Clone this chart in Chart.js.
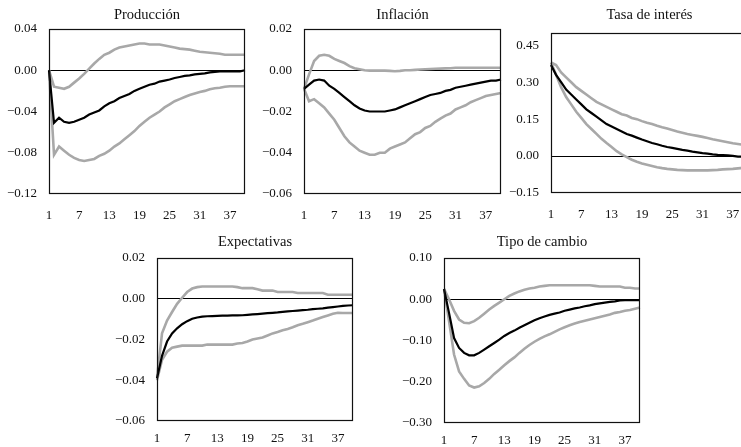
<!DOCTYPE html>
<html><head><meta charset="utf-8">
<script src="https://cdn.jsdelivr.net/npm/chart.js@4"></script>
<style>
html,body{margin:0;padding:0;background:#fff;overflow:hidden;}
#wrap{position:relative;width:741px;height:447px;overflow:hidden;background:#fff;}
canvas{position:absolute;}
</style></head><body><div id="wrap"></div>
<script>
// ---- data ----
const periods = [1,2,3,4,5,6,7,8,9,10,11,12,13,14,15,16,17,18,19,20,21,22,23,24,25,26,27,28,29,30,31,32,33,34,35,36,37,38,39,40];
const xTickLabels = ['1','7','13','19','25','31','37'];

const prodMed = [0,-0.051,-0.046,-0.050,-0.051,-0.050,-0.048,-0.046,-0.043,-0.041,-0.039,-0.035,-0.032,-0.030,-0.027,-0.025,-0.023,-0.020,-0.018,-0.016,-0.014,-0.013,-0.011,-0.010,-0.009,-0.0075,-0.0065,-0.0055,-0.005,-0.004,-0.0035,-0.003,-0.002,-0.0015,-0.001,-0.001,-0.001,-0.001,-0.001,0.0];
const prodUp = [0,-0.016,-0.017,-0.018,-0.016,-0.012,-0.008,-0.0035,0.0015,0.0065,0.011,0.015,0.017,0.020,0.022,0.023,0.024,0.025,0.026,0.026,0.025,0.025,0.025,0.024,0.023,0.022,0.021,0.0205,0.020,0.019,0.018,0.0175,0.017,0.0165,0.016,0.015,0.015,0.015,0.015,0.015];
const prodLo = [0,-0.082,-0.074,-0.078,-0.082,-0.085,-0.087,-0.088,-0.087,-0.086,-0.083,-0.081,-0.078,-0.074,-0.071,-0.067,-0.063,-0.059,-0.054,-0.050,-0.046,-0.043,-0.040,-0.036,-0.033,-0.030,-0.028,-0.026,-0.024,-0.0225,-0.021,-0.020,-0.0185,-0.0175,-0.017,-0.016,-0.0155,-0.0155,-0.0155,-0.0155];

const inflMed = [-0.009,-0.007,-0.005,-0.0045,-0.005,-0.0075,-0.009,-0.011,-0.013,-0.015,-0.017,-0.0185,-0.0195,-0.020,-0.020,-0.020,-0.020,-0.0195,-0.019,-0.018,-0.017,-0.016,-0.015,-0.014,-0.013,-0.012,-0.0115,-0.011,-0.010,-0.0095,-0.0085,-0.008,-0.0075,-0.007,-0.0065,-0.006,-0.0055,-0.005,-0.005,-0.0045];
const inflUp = [-0.009,-0.002,0.0045,0.007,0.0075,0.007,0.0055,0.0045,0.0035,0.002,0.001,0.0005,0.0,-0.0002,-0.0002,-0.0002,-0.0002,-0.0003,-0.0005,-0.0003,0.0,0.0,0.0002,0.0004,0.0005,0.0006,0.0007,0.0008,0.0009,0.001,0.0012,0.0012,0.0012,0.0012,0.0012,0.0012,0.0012,0.0012,0.0012,0.0012];
const inflLo = [-0.009,-0.015,-0.014,-0.016,-0.018,-0.021,-0.024,-0.028,-0.032,-0.035,-0.037,-0.039,-0.040,-0.041,-0.041,-0.040,-0.040,-0.038,-0.037,-0.036,-0.035,-0.033,-0.031,-0.030,-0.028,-0.027,-0.025,-0.0235,-0.022,-0.021,-0.019,-0.018,-0.017,-0.0155,-0.0145,-0.0135,-0.0125,-0.012,-0.0115,-0.011];

const tasaMed = [0.37,0.33,0.30,0.27,0.25,0.23,0.21,0.19,0.175,0.16,0.145,0.13,0.12,0.11,0.10,0.09,0.083,0.075,0.067,0.06,0.053,0.048,0.042,0.037,0.033,0.029,0.025,0.022,0.018,0.015,0.012,0.01,0.007,0.005,0.004,0.003,0.001,-0.002,-0.002,-0.002];
const tasaUp = [0.38,0.37,0.34,0.32,0.30,0.28,0.265,0.25,0.235,0.22,0.21,0.20,0.19,0.18,0.17,0.165,0.155,0.15,0.142,0.135,0.13,0.123,0.117,0.112,0.106,0.10,0.095,0.09,0.086,0.082,0.078,0.073,0.068,0.064,0.06,0.056,0.052,0.049,0.046,0.043];
const tasaLo = [0.38,0.33,0.28,0.24,0.21,0.18,0.155,0.13,0.11,0.09,0.07,0.053,0.037,0.02,0.007,-0.004,-0.015,-0.023,-0.03,-0.035,-0.04,-0.045,-0.049,-0.052,-0.054,-0.056,-0.057,-0.058,-0.058,-0.058,-0.058,-0.058,-0.057,-0.056,-0.054,-0.053,-0.052,-0.05,-0.048,-0.046];

const expMed = [-0.039,-0.028,-0.021,-0.017,-0.0145,-0.0125,-0.011,-0.0098,-0.0092,-0.0088,-0.0086,-0.0085,-0.0084,-0.0083,-0.0083,-0.0082,-0.0082,-0.0081,-0.0079,-0.0077,-0.0075,-0.0073,-0.0071,-0.0069,-0.0067,-0.0064,-0.0062,-0.006,-0.0058,-0.0056,-0.0054,-0.0051,-0.0049,-0.0047,-0.0044,-0.0041,-0.0038,-0.0035,-0.0033,-0.0032];
const expUp = [-0.039,-0.017,-0.0107,-0.0065,-0.0025,0.0005,0.0033,0.005,0.0057,0.006,0.006,0.006,0.006,0.006,0.006,0.006,0.0057,0.0052,0.0052,0.0052,0.0047,0.004,0.004,0.004,0.0033,0.0033,0.0033,0.0033,0.0028,0.0028,0.0028,0.0028,0.0028,0.0028,0.002,0.002,0.002,0.002,0.002,0.002];
const expLo = [-0.040,-0.030,-0.026,-0.024,-0.0235,-0.023,-0.023,-0.023,-0.023,-0.023,-0.0225,-0.0225,-0.0225,-0.0225,-0.0225,-0.0225,-0.022,-0.0217,-0.021,-0.020,-0.0195,-0.019,-0.018,-0.017,-0.0163,-0.0155,-0.0148,-0.014,-0.013,-0.0123,-0.0115,-0.0107,-0.0098,-0.009,-0.0082,-0.0074,-0.0069,-0.007,-0.007,-0.007];

const tcMed = [0.025,-0.033,-0.094,-0.118,-0.130,-0.136,-0.136,-0.130,-0.122,-0.114,-0.106,-0.098,-0.089,-0.082,-0.076,-0.069,-0.063,-0.057,-0.051,-0.046,-0.042,-0.038,-0.035,-0.032,-0.028,-0.025,-0.022,-0.020,-0.017,-0.015,-0.012,-0.010,-0.008,-0.0065,-0.005,-0.003,-0.002,-0.002,-0.002,-0.002];
const tcUp = [0.025,0.0,-0.028,-0.049,-0.057,-0.058,-0.053,-0.045,-0.035,-0.025,-0.016,-0.008,0.0,0.008,0.014,0.019,0.023,0.026,0.028,0.031,0.0325,0.034,0.034,0.034,0.034,0.034,0.034,0.034,0.034,0.034,0.0325,0.031,0.031,0.031,0.031,0.031,0.028,0.028,0.026,0.026];
const tcLo = [0.025,-0.053,-0.134,-0.175,-0.193,-0.209,-0.214,-0.211,-0.203,-0.193,-0.181,-0.171,-0.160,-0.150,-0.141,-0.130,-0.120,-0.111,-0.103,-0.096,-0.090,-0.085,-0.079,-0.073,-0.068,-0.063,-0.059,-0.055,-0.052,-0.049,-0.046,-0.043,-0.040,-0.037,-0.033,-0.031,-0.028,-0.026,-0.023,-0.020];

const prodTickVals = [-0.12,-0.08,-0.04,0,0.04];
const prodTickLabels = ['\u22120.12','\u22120.08','\u22120.04','0.00','0.04'];
const inflTickVals = [-0.06,-0.04,-0.02,0,0.02];
const inflTickLabels = ['\u22120.06','\u22120.04','\u22120.02','0.00','0.02'];
const tasaTickVals = [-0.15,0,0.15,0.30,0.45];
const tasaTickLabels = ['\u22120.15','0.00','0.15','0.30','0.45'];
const expTickVals = [-0.06,-0.04,-0.02,0,0.02];
const expTickLabels = ['\u22120.06','\u22120.04','\u22120.02','0.00','0.02'];
const tcTickVals = [-0.30,-0.20,-0.10,0,0.10];
const tcTickLabels = ['\u22120.30','\u22120.20','\u22120.10','0.00','0.10'];

// ---- layout ----
const panels = [
  {title:'Producción', med:prodMed, up:prodUp, lo:prodLo, min:-0.12, max:0.04, tv:prodTickVals, tl:prodTickLabels, rect:[49,29,245,194], titleY:15, xPad:14},
  {title:'Inflación', med:inflMed, up:inflUp, lo:inflLo, min:-0.06, max:0.02, tv:inflTickVals, tl:inflTickLabels, rect:[304,29,501,194], titleY:15, xPad:14},
  {title:'Tasa de interés', med:tasaMed, up:tasaUp, lo:tasaLo, min:-0.15, max:0.50, tv:tasaTickVals, tl:tasaTickLabels, rect:[551,33,748,193], titleY:15, xPad:14},
  {title:'Expectativas', med:expMed, up:expUp, lo:expLo, min:-0.06, max:0.02, tv:expTickVals, tl:expTickLabels, rect:[157,258,353,421], titleY:242, xPad:10},
  {title:'Tipo de cambio', med:tcMed, up:tcUp, lo:tcLo, min:-0.30, max:0.10, tv:tcTickVals, tl:tcTickLabels, rect:[444,258,640,423], titleY:242, xPad:10}
];

Chart.defaults.font.family = '"Liberation Serif","Times New Roman",serif';
Chart.defaults.font.size = 13;
Chart.defaults.color = '#111';

const GRAY = '#a8a8a8';
const AXW = 49, XAXH = 32, TFS = 14.5, TLH = 1.2, RPAD = 22;

const framePlugin = {
  id:'frame',
  afterDatasetsDraw(c){
    const a=c.chartArea, x=c.ctx;
    x.save(); x.strokeStyle='#111'; x.lineWidth=1.2;
    x.strokeRect(Math.round(a.left)+0.5, Math.round(a.top)+0.5, Math.round(a.right)-Math.round(a.left)-1, Math.round(a.bottom)-Math.round(a.top)-1);
    x.restore();
  }
};

const wrap = document.getElementById('wrap');
panels.forEach(p=>{
  const [L,T,R,B] = p.rect;
  const cTop = p.titleY - 15;
  const titleBox = T - cTop;
  const padTop = 15 - TFS*TLH/2;
  const padBottom = titleBox - padTop - TFS*TLH;
  const cv = document.createElement('canvas');
  const w = AXW + (R-L) + RPAD, h = titleBox + (B-T) + XAXH;
  cv.width = w; cv.height = h;
  cv.style.left = (L-AXW)+'px'; cv.style.top = cTop+'px';
  cv.style.width = w+'px'; cv.style.height = h+'px';
  wrap.appendChild(cv);
  new Chart(cv, {
    type:'line',
    data:{
      labels: periods,
      datasets:[
        {data:p.med, borderColor:'#000', borderWidth:2.2, pointRadius:0, order:0, fill:false},
        {data:p.up, borderColor:GRAY, borderWidth:2.6, pointRadius:0, order:1, fill:false},
        {data:p.lo, borderColor:GRAY, borderWidth:2.6, pointRadius:0, order:2, fill:false}
      ]
    },
    options:{
      responsive:false, animation:false, devicePixelRatio:1, events:[],
      layout:{padding:{left:0,right:RPAD,top:0,bottom:0}},
      plugins:{
        legend:{display:false}, tooltip:{enabled:false},
        title:{display:true, text:p.title, fullSize:false, color:'#111',
               font:{size:TFS, weight:'normal', lineHeight:TLH},
               padding:{top:padTop, bottom:padBottom}}
      },
      scales:{
        x:{type:'category', offset:false,
           grid:{display:false, drawTicks:false}, border:{display:false},
           ticks:{autoSkip:false, maxRotation:0, minRotation:0, padding:p.xPad, color:'#111',
                  callback:(v,i)=> xTickLabels.includes(String(periods[i])) ? String(periods[i]) : ''},
           afterFit:(s)=>{ s.height = XAXH; }
        },
        y:{type:'linear', min:p.min, max:p.max,
           grid:{drawTicks:false, lineWidth:1,
                 color:(c)=> (c.tick && Math.abs(c.tick.value)<1e-9) ? '#000' : 'rgba(0,0,0,0)'},
           border:{display:false},
           ticks:{padding:12, color:'#111', callback:(v,i)=> p.tl[i]},
           afterBuildTicks:(s)=>{ s.ticks = p.tv.map(v=>({value:v})); },
           afterFit:(s)=>{ s.width = AXW; }
        }
      }
    },
    plugins:[framePlugin]
  });
});
</script></body></html>
